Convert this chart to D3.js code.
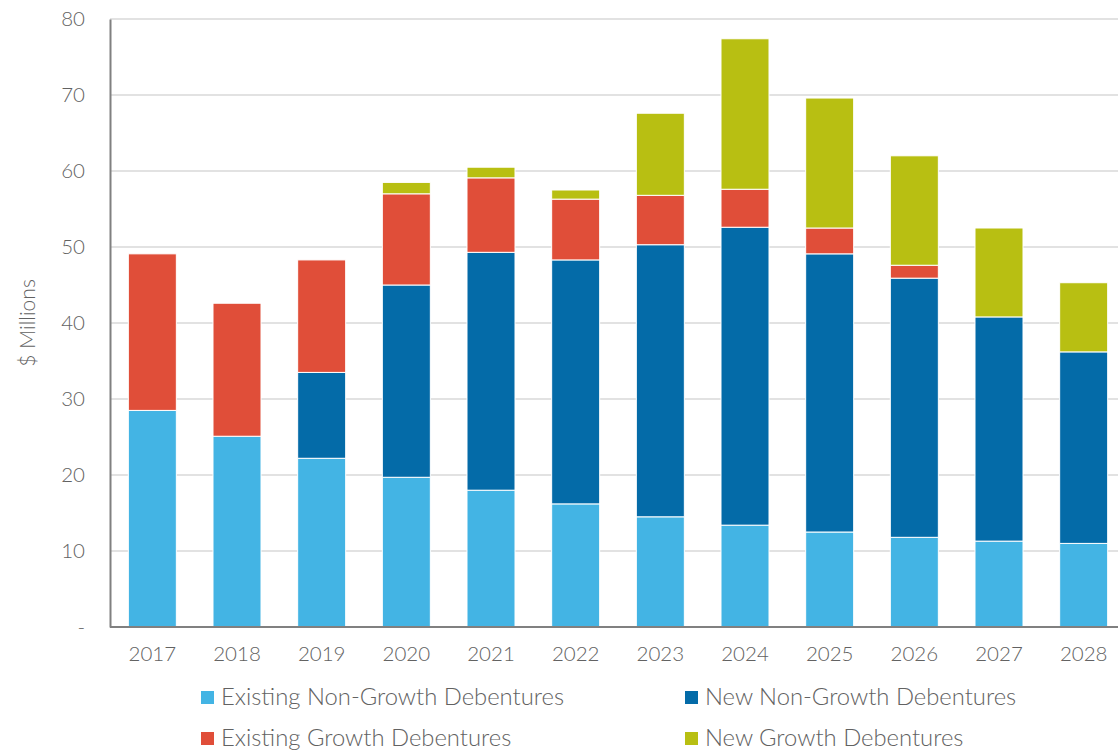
<!DOCTYPE html>
<html>
<head>
<meta charset="utf-8">
<script src="https://cdn.jsdelivr.net/npm/d3@7"></script>
<style>
  html, body { margin: 0; padding: 0; background: #fff; }
  svg text { font-family: Lato, "Open Sans", sans-serif; fill: #626262; }
</style>
</head>
<body>
<svg id="chart" width="1118" height="751"></svg>
<script>
// Debenture payments by year ($ millions)
const years = ["2017","2018","2019","2020","2021","2022","2023","2024","2025","2026","2027","2028"];
const existingNonGrowth = [28.5, 25.1, 22.2, 19.7, 18.0, 16.2, 14.5, 13.4, 12.5, 11.8, 11.3, 11.0];
const newNonGrowth      = [0, 0, 11.3, 25.3, 31.3, 32.1, 35.8, 39.2, 36.6, 34.1, 29.5, 25.2];
const existingGrowth    = [20.6, 17.5, 14.8, 12.0, 9.8, 8.0, 6.5, 5.0, 3.4, 1.7, 0, 0];
const newGrowth         = [0, 0, 0, 1.5, 1.4, 1.2, 10.8, 19.8, 17.1, 14.4, 11.7, 9.1];
const seriesNames = ["Existing Non-Growth Debentures", "New Non-Growth Debentures",
                     "Existing Growth Debentures", "New Growth Debentures"];
const seriesColors = ["#43b4e4", "#046ba8", "#e04e39", "#b8bf12"];
const yTicks = [0, 10, 20, 30, 40, 50, 60, 70, 80];

const seriesValues = [existingNonGrowth, newNonGrowth, existingGrowth, newGrowth];
const rows = years.map((y, i) => {
  const r = { year: y };
  seriesNames.forEach((n, k) => r[n] = seriesValues[k][i]);
  return r;
});

const svg = d3.select("#chart");
const W = 1118, H = 751;
const plot = { left: 110, right: 1126, top: 19, bottom: 627 };

const x = d3.scaleBand()
  .domain(years)
  .range([plot.left, plot.right])
  .paddingInner(0.433)
  .paddingOuter(0.2165);

const y = d3.scaleLinear()
  .domain([0, 80])
  .range([plot.bottom, plot.top]);

// horizontal gridlines
svg.append("g")
  .selectAll("line")
  .data(yTicks.filter(t => t > 0))
  .join("line")
  .attr("x1", plot.left).attr("x2", W)
  .attr("y1", d => y(d)).attr("y2", d => y(d))
  .attr("stroke", "#d9d9d9").attr("stroke-width", 1.3);

// stacked bars
const stack = d3.stack().keys(seriesNames)(rows);
svg.append("g")
  .selectAll("g")
  .data(stack)
  .join("g")
  .attr("fill", (d, i) => seriesColors[i])
  .selectAll("rect")
  .data(d => d.filter(s => s[1] - s[0] > 0))
  .join("rect")
  .attr("x", d => x(d.data.year))
  .attr("width", x.bandwidth())
  .attr("y", d => y(d[1]))
  .attr("height", d => y(d[0]) - y(d[1]))
  .attr("stroke", "#ffffff")
  .attr("stroke-width", 1);

// y axis
const yAxis = d3.axisLeft(y)
  .tickValues(yTicks)
  .tickSize(0)
  .tickPadding(25)
  .tickFormat(d => d === 0 ? "-" : d);
const gy = svg.append("g")
  .attr("transform", `translate(${plot.left},0)`)
  .call(yAxis);
gy.select(".domain").attr("stroke", "#808080").attr("stroke-width", 2);
gy.selectAll("text").style("font-size", "20.5px").style("font-weight", 300).attr("fill", "#626262");

// x axis
const xAxis = d3.axisBottom(x).tickSize(0).tickPadding(19);
const gx = svg.append("g")
  .attr("transform", `translate(0,${plot.bottom})`)
  .call(xAxis);
gx.select(".domain").attr("stroke", "#808080").attr("stroke-width", 2)
  .attr("d", `M${plot.left},0H${W}`);
gx.selectAll("text").style("font-size", "20.5px").style("font-weight", 300).attr("fill", "#626262");

// y axis title
svg.append("text")
  .attr("transform", `translate(35,${(y(0) + y(80)) / 2}) rotate(-90)`)
  .attr("text-anchor", "middle")
  .style("font-size", "21px")
  .style("font-weight", 300)
  .text("$ Millions");

// legend
const legendPos = [[201, 697], [685, 697], [201, 738], [685, 738]];
const legend = svg.append("g")
  .selectAll("g")
  .data(seriesNames)
  .join("g")
  .attr("transform", (d, i) => `translate(${legendPos[i][0]},${legendPos[i][1]})`);
legend.append("rect")
  .attr("x", 0).attr("y", -6)
  .attr("width", 13).attr("height", 13)
  .attr("fill", (d, i) => seriesColors[i]);
legend.append("text")
  .attr("x", 20).attr("y", 0)
  .attr("dy", "0.35em")
  .style("font-size", "23.8px")
  .style("font-weight", 300)
  .text(d => d);
</script>
</body>
</html>
